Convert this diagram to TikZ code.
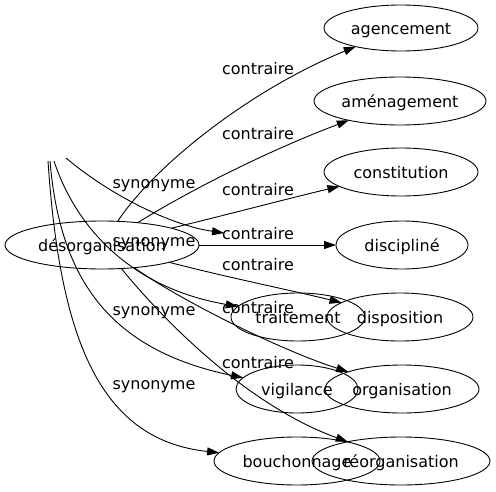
\documentclass[tikz,border=0pt]{standalone}
\usepackage{fontspec}
\setmainfont{DejaVu Sans}
\usetikzlibrary{shapes.geometric,arrows.meta}

\begin{document}
\begin{tikzpicture}[x=1pt,y=-1pt,line width=0.9pt,>={Triangle[length=12pt,width=8pt]},
    font=\fontsize{16}{19}\selectfont,
    word/.style={ellipse,draw,inner sep=0pt,outer sep=0pt,minimum height=48pt,
                 text height=12pt,text depth=0pt},
    rel/.style={anchor=base,inner sep=0pt}]
    \useasboundingbox (0,0) rectangle (496,491);
    \node[word,minimum width=194pt] (des) at (102,245) {désorganisation};
    \node[word,minimum width=154pt,minimum height=46pt] (agencement) at (401,28) {agencement};
    \node[word,minimum width=172pt] (amenagement) at (400,101) {aménagement};
    \node[word,minimum width=154pt] (constitution) at (401,172) {constitution};
    \node[word,minimum width=132pt] (discipline) at (402,245) {discipliné};
    \node[word,minimum width=134pt] (traitement) at (298,317) {traitement};
    \node[word,minimum width=146pt] (disposition) at (400,317) {disposition};
    \node[word,minimum width=122pt] (vigilance) at (297,389) {vigilance};
    \node[word,minimum width=154pt] (organisation) at (402,389) {organisation};
    \node[word,minimum width=166pt] (bouchonnage) at (297,461) {bouchonnage};
    \node[word,minimum width=178pt] (reorganisation) at (401,461) {réorganisation};
    \coordinate (syA) at (48,161);
    \coordinate (syB) at (50,161);
    \coordinate (syC) at (54,161);
    \coordinate (syD) at (66,158);
    \coordinate (dD) at (224,233);
%    contraire
    \draw[->] (des) .. controls (155,165) and (250,90) .. (agencement);
    \draw[->] (des) .. controls (190,190) and (270,150) .. (amenagement);
    \draw[->] (des) .. controls (230,214) and (290,198) .. (constitution);
    \draw[->] (des) -- (discipline);
    \draw[->] (des) .. controls (230,278) and (290,290) .. (disposition);
    \draw[->] (des) .. controls (180,300) and (280,350) .. (organisation);
    \draw[->] (des) .. controls (180,340) and (260,410) .. (reorganisation);
%    synonyme
    \draw[->] (syA) .. controls (60,340) and (100,440) .. (bouchonnage);
    \draw[->] (syB) .. controls (60,280) and (110,350) .. (vigilance);
    \draw[->] (syC) .. controls (70,210) and (115,285) .. (traitement);
    \draw[->] (syD) .. controls (110,195) and (170,225) .. (dD);
    \node[rel] (c1) at (258,74) {contraire};
    \node[rel] (c2) at (258,139) {contraire};
    \node[rel] (c3) at (258,195) {contraire};
    \node[rel] (c4) at (258,239) {contraire};
    \node[rel] (c5) at (258,270) {contraire};
    \node[rel] (c6) at (258,313) {contraire};
    \node[rel] (c7) at (258,368) {contraire};
    \node[rel] (s1) at (154,188) {synonyme};
    \node[rel] (s2) at (154,246) {synonyme};
    \node[rel] (s3) at (154,315) {synonyme};
    \node[rel] (s4) at (154,389) {synonyme};
\end{tikzpicture}
\end{document}
